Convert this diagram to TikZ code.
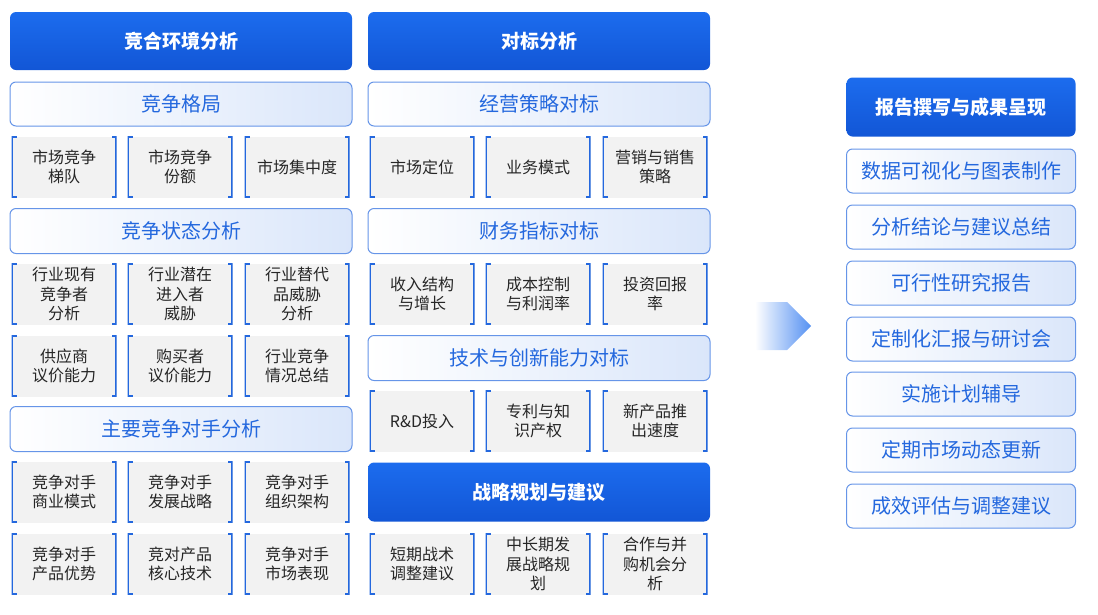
\documentclass[tikz,border=0pt]{standalone}
\usepackage{fontspec}
\setmainfont{Noto Sans CJK SC}
\usetikzlibrary{shapes.arrows}
\definecolor{hdblue}{RGB}{28,108,238}
\definecolor{hdblued}{RGB}{18,86,214}
\definecolor{subblue}{RGB}{36,104,222}
\definecolor{sublight}{RGB}{218,230,250}
\definecolor{cellgray}{RGB}{242,242,242}
\tikzset{
  head/.style={rounded corners=6pt, top color=hdblue, bottom color=hdblued, draw=none,
    text=white, font=\bfseries\fontsize{19}{22}\selectfont, inner sep=0pt},
  sub/.style={rounded corners=6pt, left color=white, right color=sublight, draw=subblue!70,
    line width=1pt, text=subblue, font=\fontsize{20}{23}\selectfont, inner sep=0pt},
  cell/.style={fill=cellgray, draw=none, text=black!85, align=center, inner sep=0pt,
    font=\fontsize{16}{19.5}\selectfont, minimum width=105pt, minimum height=61pt,
    path picture={\draw[subblue, line width=2.4pt]
      ([xshift=5pt]path picture bounding box.north west) -- (path picture bounding box.north west)
      -- (path picture bounding box.south west) -- ([xshift=5pt]path picture bounding box.south west);
      \draw[subblue, line width=2.4pt]
      ([xshift=-5pt]path picture bounding box.north east) -- (path picture bounding box.north east)
      -- (path picture bounding box.south east) -- ([xshift=-5pt]path picture bounding box.south east);}},
}
\newcommand{\bx}[6]{\node[#1, minimum width=#4pt, minimum height=#5pt] (#2) at (#3) {#6};}
\begin{document}
\begin{tikzpicture}[x=1pt,y=-1pt]
  \useasboundingbox (0,0) rectangle (1098,614);
  % left column
  \bx{head}{envh}{181,41}{342}{58}{竞合环境分析}
  \bx{sub}{pat}{181,104}{342}{44}{竞争格局}
  \bx{sub}{stat}{181,231}{342}{45}{竞争状态分析}
  \bx{sub}{rival}{181,429}{342}{45}{主要竞争对手分析}
  % middle column
  \bx{head}{benh}{539,41}{342}{58}{对标分析}
  \bx{sub}{oper}{539,104}{342}{44}{经营策略对标}
  \bx{sub}{fin}{539,231}{342}{45}{财务指标对标}
  \bx{sub}{tech}{539,358}{342}{45}{技术与创新能力对标}
  \bx{head}{strh}{539,492}{342}{59}{战略规划与建议}
  % cells
  \foreach \x/\y/\t [count=\i] in {
    64/167/{市场竞争\\梯队}, 180/167/{市场竞争\\份额}, 297/167/{市场集中度},
    64/294/{行业现有\\竞争者\\分析}, 180/294/{行业潜在\\进入者\\威胁}, 297/294/{行业替代\\品威胁\\分析},
    64/366/{供应商\\议价能力}, 180/366/{购买者\\议价能力}, 297/366/{行业竞争\\情况总结},
    64/492/{竞争对手\\商业模式}, 180/492/{竞争对手\\发展战略}, 297/492/{竞争对手\\组织架构},
    64/564/{竞争对手\\产品优势}, 180/564/{竞对产品\\核心技术}, 297/564/{竞争对手\\市场表现},
    422/167/{市场定位}, 538/167/{业务模式}, 655/167/{营销与销售\\策略},
    422/294/{收入结构\\与增长}, 538/294/{成本控制\\与利润率}, 655/294/{投资回报\\率},
    422/421/{R\&D投入}, 538/421/{专利与知\\识产权}, 655/421/{新产品推\\出速度},
    422/564/{短期战术\\调整建议}, 538/564/{中长期发\\展战略规\\划}, 655/564/{合作与并\\购机会分\\析}}
    \node[cell] (c\i) at (\x,\y) {\t};
  % arrow
  \node[single arrow, draw=none, left color=white, right color=hdblue!75,
    minimum height=56pt, minimum width=48pt, single arrow head extend=0pt,
    inner sep=0pt] (arr) at (771,326) {};
  % right column
  \bx{head}{reph}{961,107}{229}{59}{报告撰写与成果呈现}
  \foreach \y/\t [count=\i] in {171/数据可视化与图表制作, 227/分析结论与建议总结,
    283/可行性研究报告, 339/定制化汇报与研讨会, 394/实施计划辅导,
    450/定期市场动态更新, 506/成效评估与调整建议}
    \node[sub, minimum width=229pt, minimum height=44pt] (r\i) at (961,\y) {\t};
\end{tikzpicture}
\end{document}
